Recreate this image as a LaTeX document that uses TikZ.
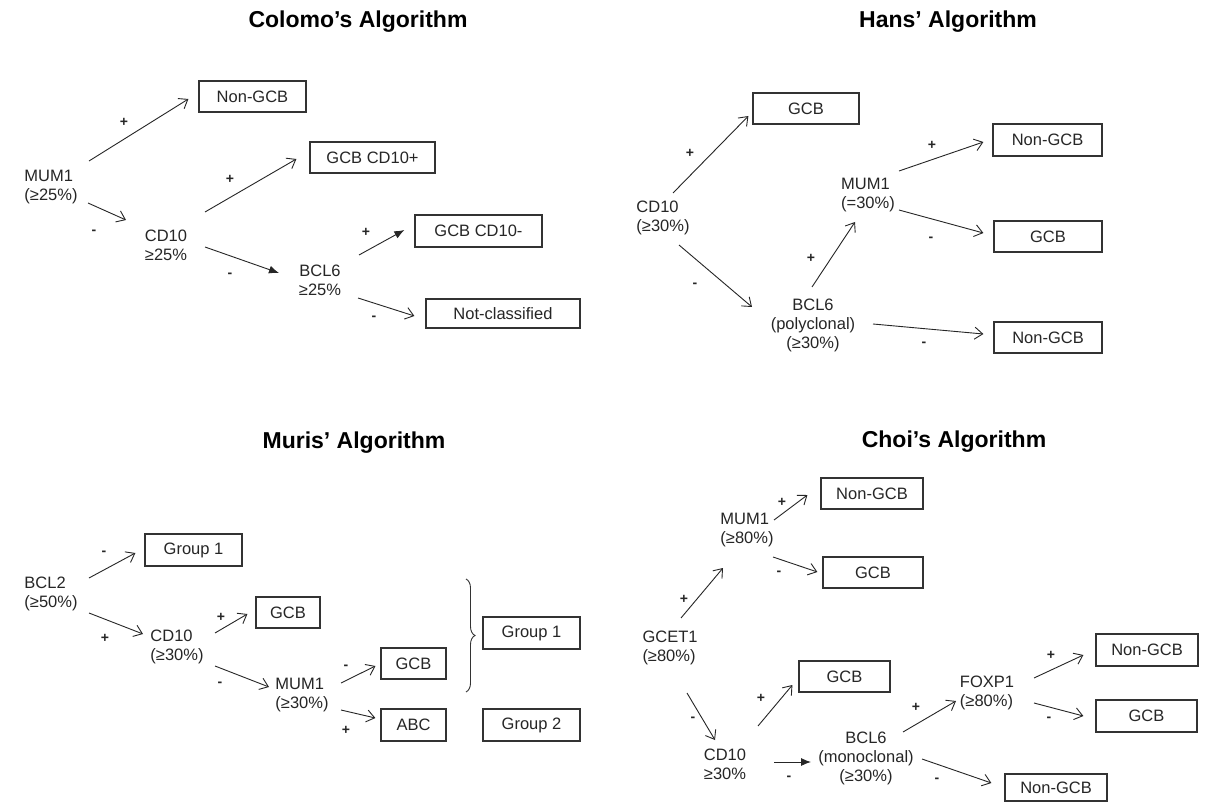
\documentclass[tikz,border=0pt]{standalone}
\usepackage{fontspec}
\setmainfont{Liberation Sans}
\usetikzlibrary{arrows.meta,decorations.pathreplacing}
\begin{document}
\begin{tikzpicture}[x=1pt,y=-1pt,
  txt/.style={font=\fontsize{16.5}{19}\selectfont, align=center, inner sep=0pt, text=black!85},
  ltxt/.style={txt, align=left},
  bx/.style={draw=black!80, line width=1.2pt, inner sep=0pt, font=\fontsize{16.5}{19}\selectfont, text=black!85, minimum height=31pt},
  sg/.style={font=\bfseries\fontsize{14}{14}\selectfont, inner sep=0pt, text=black!85},
  ttl/.style={font=\bfseries\fontsize{23}{23}\selectfont, anchor=base, inner sep=0pt},
  arr/.style={draw=black!85, line width=0.9pt, -{Straight Barb[length=8pt,width=12pt,line width=0.9pt]}},
  farr/.style={draw=black!85, line width=0.9pt, -{Latex[length=10pt,width=8pt]}}]
\useasboundingbox[fill=white] (0,0) rectangle (1205,802);

% ---------------- Colomo ----------------
\node[ttl] (t1) at (358,28) {Colomo’s Algorithm};
\node[ltxt] (c1) at (51,187) {MUM1\\(≥25\%)};
\node[txt] (c2) at (166,245) {CD10\\≥25\%};
\node[txt] (c3) at (320,280) {BCL6\\≥25\%};
\node[bx, minimum width=107pt] (b1) at (252.5,96.5) {Non-GCB};
\node[bx, minimum width=125pt] (b2) at (372.5,157.5) {GCB CD10+};
\node[bx, minimum width=127pt, minimum height=32pt] (b3) at (478.5,231) {GCB CD10-};
\node[bx, minimum width=154pt, minimum height=29pt] (b4) at (503,313.5) {Not-classified};
\draw[arr] ([shift={(38,-26)}]c1.center) -- ([shift={(-10,2.5)}]b1.west);
\draw[arr] ([shift={(37,16)}]c1.center) -- ([shift={(-40,-25)}]c2.center);
\draw[arr] ([shift={(39,-33)}]c2.center) -- ([shift={(-13,1.5)}]b2.west);
\draw[farr] ([shift={(39,2)}]c2.center) -- ([shift={(-41,-7)}]c3.center);
\draw[farr] ([shift={(39,-25)}]c3.center) -- ([shift={(-10,-1)}]b3.west);
\draw[arr] ([shift={(38,18)}]c3.center) -- ([shift={(-11,2.5)}]b4.west);
\node[sg] (s1) at (124,122) {+};
\node[sg] (s2) at (94,232) {-};
\node[sg] (s3) at (230,179) {+};
\node[sg] (s4) at (230,275) {-};
\node[sg] (s5) at (366,232) {+};
\node[sg] (s6) at (374,318) {-};

% ---------------- Hans ----------------
\node[ttl] (t2) at (948,28) {Hans’ Algorithm};
\node[ltxt] (h1) at (663,218) {CD10\\(≥30\%)};
\node[ltxt] (h2) at (868,195) {MUM1\\(=30\%)};
\node[txt] (h3) at (813,325) {BCL6\\(polyclonal)\\(≥30\%)};
\node[bx, minimum width=106pt] (hb1) at (806,108.5) {GCB};
\node[bx, minimum width=109pt, minimum height=32pt] (hb2) at (1047.5,140) {Non-GCB};
\node[bx, minimum width=108pt] (hb3) at (1048,236.5) {GCB};
\node[bx, minimum width=108pt] (hb4) at (1048,337.5) {Non-GCB};
\draw[arr] ([shift={(10,-25)}]h1.center) -- ([shift={(-4,7.5)}]hb1.west);
\draw[arr] ([shift={(16,27)}]h1.center) -- ([shift={(-61,-18)}]h3.center);
\draw[arr] ([shift={(-1,-38)}]h3.center) -- ([shift={(-13,27)}]h2.center);
\draw[arr] ([shift={(31,-24)}]h2.center) -- ([shift={(-9,2)}]hb2.west);
\draw[arr] ([shift={(31,15)}]h2.center) -- ([shift={(-10,-3.5)}]hb3.west);
\draw[arr] ([shift={(60,-1)}]h3.center) -- ([shift={(-10,-3.5)}]hb4.west);
\node[sg] (s7) at (690,153) {+};
\node[sg] (s8) at (695,285) {-};
\node[sg] (s9) at (811,258) {+};
\node[sg] (s10) at (932,145) {+};
\node[sg] (s11) at (931,239) {-};
\node[sg] (s12) at (924,344) {-};

% ---------------- Muris ----------------
\node[ttl] (t3) at (354,448) {Muris’ Algorithm};
\node[ltxt] (m1) at (51,594) {BCL2\\(≥50\%)};
\node[ltxt] (m2) at (177,647) {CD10\\(≥30\%)};
\node[ltxt] (m3) at (302,695) {MUM1\\(≥30\%)};
\node[bx, minimum width=97pt, minimum height=32pt] (mb1) at (193.5,550) {Group 1};
\node[bx, minimum width=64pt] (mb2) at (288,612.5) {GCB};
\node[bx, minimum width=65pt] (mb3) at (413.5,663.5) {GCB};
\node[bx, minimum width=65pt, minimum height=32pt] (mb4) at (413.5,725) {ABC};
\node[bx, minimum width=97pt, minimum height=32pt] (mb5) at (531.5,633) {Group 1};
\node[bx, minimum width=97pt, minimum height=32pt] (mb6) at (531.5,725) {Group 2};
\draw[draw=black!80, line width=0.9pt, decorate, decoration={brace, amplitude=9pt}] (466,579) -- (466,692);
\draw[arr] ([shift={(38,-16)}]m1.center) -- ([shift={(-9,3)}]mb1.west);
\draw[arr] ([shift={(38,19)}]m1.center) -- ([shift={(-34,-13)}]m2.center);
\draw[arr] ([shift={(38,-14)}]m2.center) -- ([shift={(-8,1.5)}]mb2.west);
\draw[arr] ([shift={(38,19)}]m2.center) -- ([shift={(-33,-8)}]m3.center);
\draw[arr] ([shift={(39,-12)}]m3.center) -- ([shift={(-5,2.5)}]mb3.west);
\draw[arr] ([shift={(39,15)}]m3.center) -- ([shift={(-5,-7)}]mb4.west);
\node[sg] (s13) at (104,553) {-};
\node[sg] (s14) at (105,638) {+};
\node[sg] (s15) at (221,617) {+};
\node[sg] (s16) at (220,684) {-};
\node[sg] (s17) at (346,667) {-};
\node[sg] (s18) at (346,730) {+};

% ---------------- Choi ----------------
\node[ttl] (t4) at (954,447) {Choi’s Algorithm};
\node[ltxt] (k1) at (670,648) {GCET1\\(≥80\%)};
\node[ltxt] (k2) at (747,530) {MUM1\\(≥80\%)};
\node[txt] (k3) at (725,764) {CD10\\≥30\%};
\node[txt] (k4) at (866,758) {BCL6\\(monoclonal)\\(≥30\%)};
\node[ltxt] (k5) at (987,693) {FOXP1\\(≥80\%)};
\node[bx, minimum width=102pt] (kb1) at (872,493.5) {Non-GCB};
\node[bx, minimum width=100pt] (kb2) at (873,572.5) {GCB};
\node[bx, minimum width=91pt] (kb3) at (844.5,676.5) {GCB};
\node[bx, minimum width=102pt, minimum height=32pt] (kb4) at (1147,650) {Non-GCB};
\node[bx, minimum width=101pt, minimum height=32pt] (kb5) at (1146.5,716) {GCB};
\node[bx, minimum width=102pt, minimum height=27pt] (kb6) at (1056,787.5) {Non-GCB};
\draw[arr] ([shift={(11,-30)}]k1.center) -- ([shift={(-24,38)}]k2.center);
\draw[arr] ([shift={(27,-10)}]k2.center) -- ([shift={(-13,1.5)}]kb1.west);
\draw[arr] ([shift={(26,27)}]k2.center) -- ([shift={(-5,-0.5)}]kb2.west);
\draw[arr] ([shift={(17,45)}]k1.center) -- ([shift={(-10,-24)}]k3.center);
\draw[arr] ([shift={(33,-38)}]k3.center) -- ([shift={(-6,8.5)}]kb3.west);
\draw[farr] ([shift={(49,-2)}]k3.center) -- ([shift={(-55,4)}]k4.center);
\draw[arr] ([shift={(37,-26)}]k4.center) -- ([shift={(-31,8)}]k5.center);
\draw[arr] ([shift={(56,1)}]k4.center) -- ([shift={(-13,-4.5)}]kb6.west);
\draw[arr] ([shift={(47,-15)}]k5.center) -- ([shift={(-12,5)}]kb4.west);
\draw[arr] ([shift={(47,10)}]k5.center) -- ([shift={(-12,0)}]kb5.west);
\node[sg] (s19) at (782,502) {+};
\node[sg] (s20) at (779,573) {-};
\node[sg] (s21) at (684,599) {+};
\node[sg] (s22) at (693,719) {-};
\node[sg] (s23) at (761,698) {+};
\node[sg] (s24) at (789,778) {-};
\node[sg] (s25) at (916,707) {+};
\node[sg] (s26) at (937,780) {-};
\node[sg] (s27) at (1051,655) {+};
\node[sg] (s28) at (1049,719) {-};
\end{tikzpicture}
\end{document}
